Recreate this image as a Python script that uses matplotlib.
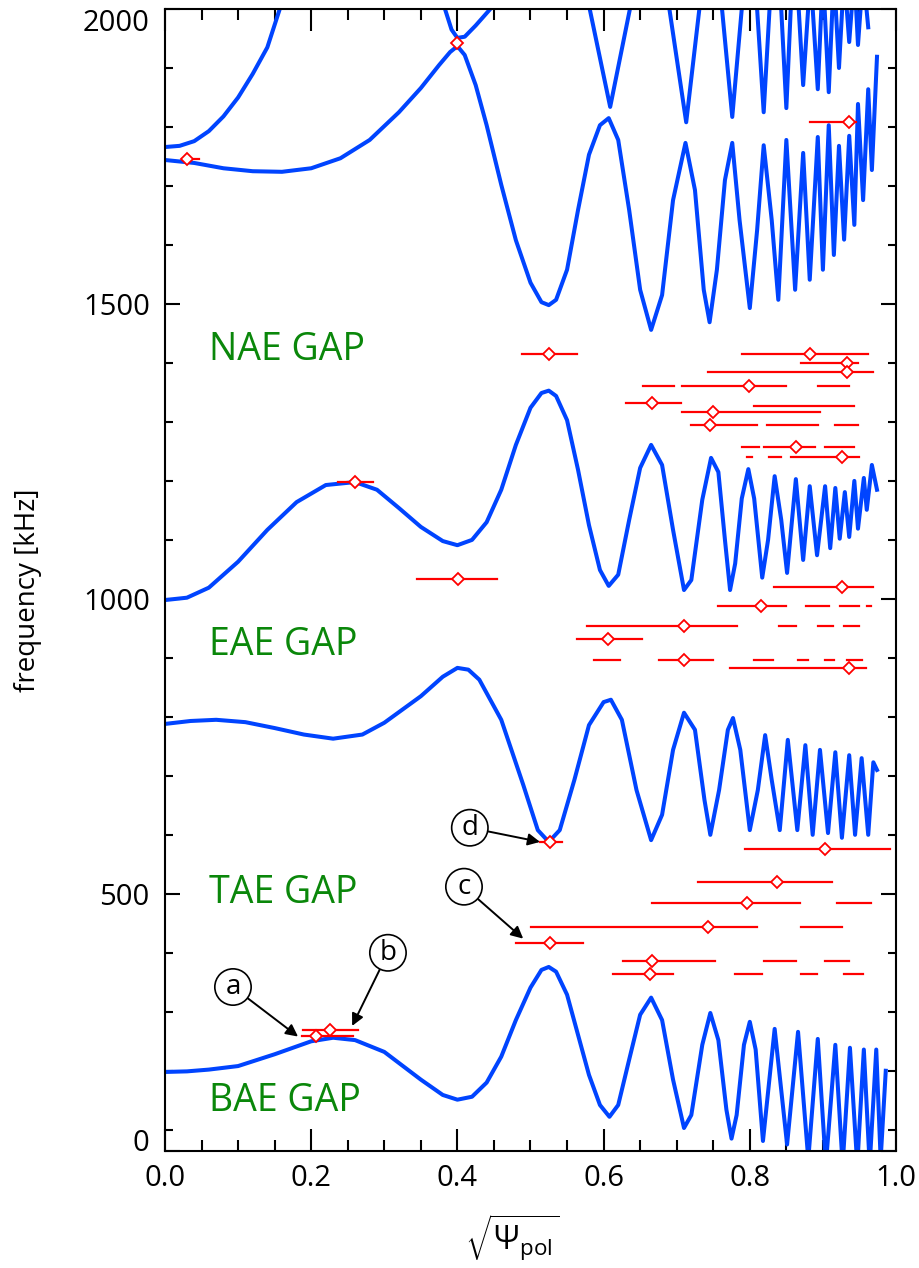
import numpy as np
import matplotlib
matplotlib.use('Agg')
import matplotlib.pyplot as plt
from matplotlib.ticker import MultipleLocator, FixedLocator, FormatStrFormatter

plt.rcParams['font.family'] = ['Open Sans', 'DejaVu Sans']
plt.rcParams['mathtext.fontset'] = 'custom'
plt.rcParams['mathtext.rm'] = 'Open Sans'
plt.rcParams['mathtext.it'] = 'Open Sans:italic'
plt.rcParams['mathtext.bf'] = 'Open Sans:bold'

# ---------------- continuum curves (sqrt(psi_pol), kHz) ----------------
bae_x = [0.000, 0.030, 0.060, 0.100, 0.150, 0.200, 0.230, 0.260, 0.300, 0.350, 0.380, 0.400,
         0.420, 0.440, 0.460, 0.480, 0.500, 0.515, 0.525, 0.535, 0.550, 0.565, 0.580, 0.595,
         0.608, 0.620, 0.635, 0.650, 0.665, 0.680, 0.695, 0.710, 0.720, 0.735, 0.746, 0.757,
         0.768, 0.775, 0.782, 0.792, 0.800, 0.808, 0.818, 0.834, 0.851, 0.866, 0.880, 0.893,
         0.904, 0.917, 0.927, 0.937, 0.947, 0.956, 0.964, 0.973, 0.979, 0.986]
bae_y = [198, 199, 202, 208, 228, 250, 256, 252, 232, 185, 159, 151,
         156, 180, 224, 286, 341, 371, 376, 368, 329, 261, 193, 142,
         122, 142, 219, 295, 324, 286, 185, 103, 125, 244, 298, 252,
         134, 85, 125, 244, 283, 236, 81, 271, 75, 266, 50, 254,
         40, 244, 40, 239, 40, 236, 40, 236, 50, 200]

tae_x = [0.000, 0.035, 0.070, 0.110, 0.150, 0.190, 0.230, 0.270, 0.300, 0.350, 0.380, 0.400,
         0.415, 0.430, 0.460, 0.490, 0.510, 0.525, 0.540, 0.560, 0.580, 0.600, 0.610, 0.625,
         0.645, 0.665, 0.680, 0.695, 0.710, 0.725, 0.738, 0.746, 0.758, 0.770, 0.777, 0.787,
         0.800, 0.811, 0.821, 0.830, 0.841, 0.852, 0.865, 0.876, 0.886, 0.896, 0.907, 0.917,
         0.926, 0.936, 0.944, 0.953, 0.962, 0.969, 0.974]
tae_y = [788, 793, 795, 791, 781, 770, 763, 770, 790, 835, 868, 883,
         880, 863, 795, 685, 608, 588, 608, 693, 786, 825, 829, 795,
         676, 591, 634, 744, 807, 778, 659, 600, 676, 778, 798, 744,
         608, 676, 769, 693, 608, 761, 608, 752, 600, 744, 603, 740,
         595, 735, 600, 730, 600, 723, 710]

eae_x = [0.000, 0.030, 0.060, 0.100, 0.140, 0.180, 0.220, 0.260, 0.290, 0.320, 0.350, 0.380,
         0.400, 0.420, 0.440, 0.460, 0.480, 0.500, 0.515, 0.525, 0.535, 0.550, 0.565, 0.580,
         0.595, 0.607, 0.620, 0.635, 0.650, 0.665, 0.680, 0.695, 0.710, 0.720, 0.735, 0.747,
         0.757, 0.766, 0.773, 0.780, 0.789, 0.798, 0.806, 0.817, 0.825, 0.834, 0.843, 0.851,
         0.863, 0.873, 0.882, 0.892, 0.903, 0.910, 0.917, 0.923, 0.930, 0.936, 0.943, 0.948,
         0.956, 0.960, 0.967, 0.974]
eae_y = [998, 1002, 1019, 1063, 1117, 1164, 1193, 1198, 1185, 1154, 1122, 1098,
         1091, 1100, 1130, 1185, 1261, 1324, 1349, 1353, 1344, 1303, 1219, 1125,
         1049, 1022, 1041, 1134, 1222, 1261, 1227, 1117, 1015, 1032, 1168, 1239,
         1215, 1100, 1015, 1060, 1170, 1220, 1170, 1036, 1100, 1208, 1134, 1044,
         1203, 1066, 1191, 1074, 1191, 1086, 1188, 1102, 1181, 1105, 1200, 1119,
         1205, 1151, 1227, 1185]

nae_lo_x = [0.000, 0.040, 0.080, 0.120, 0.160, 0.200, 0.240, 0.280, 0.320, 0.350, 0.375, 0.390,
            0.400, 0.410, 0.425, 0.440, 0.460, 0.480, 0.500, 0.515, 0.525, 0.535, 0.550, 0.565,
            0.580, 0.595, 0.607, 0.620, 0.635, 0.650, 0.665, 0.680, 0.695, 0.712, 0.725, 0.737,
            0.745, 0.755, 0.766, 0.776, 0.786, 0.800, 0.810, 0.819, 0.830, 0.839, 0.850, 0.862,
            0.873, 0.882, 0.893, 0.900, 0.908, 0.915, 0.922, 0.929, 0.936, 0.943, 0.948, 0.955,
            0.962, 0.967, 0.974]
nae_lo_y = [1744, 1739, 1730, 1725, 1724, 1730, 1747, 1778, 1825, 1866, 1905, 1927,
            1937, 1922, 1871, 1803, 1702, 1608, 1536, 1503, 1498, 1507, 1558, 1659,
            1753, 1803, 1815, 1778, 1659, 1524, 1456, 1515, 1676, 1773, 1693, 1524,
            1469, 1558, 1710, 1773, 1642, 1493, 1625, 1769, 1642, 1507, 1778, 1524,
            1756, 1541, 1783, 1558, 1803, 1583, 1768, 1609, 1785, 1634, 1839, 1676,
            1864, 1727, 1919]

nae_hi_x = [0.000, 0.020, 0.040, 0.060, 0.080, 0.100, 0.120, 0.140, 0.157, 0.270, 0.383, 0.392,
            0.400, 0.410, 0.425, 0.445, 0.510, 0.581, 0.609, 0.636, 0.660, 0.690, 0.713, 0.731,
            0.745, 0.762, 0.776, 0.789, 0.800, 0.810, 0.819, 0.827, 0.835, 0.843, 0.850, 0.856,
            0.865, 0.873, 0.883, 0.893, 0.900, 0.908, 0.915, 0.922, 0.929, 0.936, 0.943, 0.948,
            0.955, 0.962]
nae_hi_y = [1766, 1768, 1776, 1793, 1818, 1850, 1890, 1935, 2000, 2250, 2000, 1965,
            1951, 1953, 1972, 2000, 2200, 2000, 1834, 2000, 2100, 2000, 1808, 2000,
            2080, 2000, 1817, 2000, 2050, 2000, 1825, 2000, 2040, 2000, 1832, 2000,
            2040, 1871, 2060, 1864, 2060, 1859, 2060, 1900, 2060, 1944, 2060, 1939,
            2060, 1969]

# ---------------- measured modes: position and radial extent ----------------
pt_x = [0.030, 0.399, 0.936, 0.525, 0.882, 0.933, 0.933, 0.799, 0.666, 0.750, 0.746, 0.863,
        0.926, 0.260, 0.401, 0.926, 0.815, 0.710, 0.606, 0.710, 0.936, 0.527, 0.903, 0.837,
        0.796, 0.743, 0.527, 0.666, 0.663, 0.226, 0.207]
pt_y = [1746, 1942, 1808, 1415, 1415, 1400, 1385, 1361, 1332, 1317, 1295, 1258,
        1241, 1198, 1034, 1020, 988, 954, 932, 897, 883, 588, 576, 520,
        485, 444, 417, 386, 364, 269, 259]
pt_xlo = [0.023, 0.399, 0.882, 0.488, 0.789, 0.870, 0.743, 0.707, 0.631, 0.707, 0.720, 0.819,
          0.856, 0.237, 0.345, 0.833, 0.757, 0.577, 0.564, 0.676, 0.773, 0.513, 0.793, 0.729,
          0.666, 0.501, 0.480, 0.627, 0.613, 0.189, 0.187]
pt_xhi = [0.047, 0.399, 0.945, 0.564, 0.962, 0.948, 0.969, 0.850, 0.706, 0.896, 0.810, 0.889,
          0.949, 0.285, 0.454, 0.969, 0.850, 0.782, 0.653, 0.750, 0.959, 0.543, 0.992, 0.912,
          0.869, 0.810, 0.572, 0.752, 0.695, 0.264, 0.257]

# extra radial segments without a marker
seg_y = [1361, 1361, 1327, 1295, 1295, 1258, 1258, 1241, 1241,
         988, 988, 988, 954, 954, 954, 897, 897, 897, 897, 897,
         485, 444, 386, 386, 364, 364, 364]
seg_x0 = [0.654, 0.893, 0.806, 0.824, 0.917, 0.789, 0.903, 0.796, 0.826,
          0.877, 0.923, 0.960, 0.840, 0.893, 0.929, 0.587, 0.806, 0.866, 0.903, 0.933,
          0.919, 0.870, 0.819, 0.903, 0.780, 0.870, 0.929]
seg_x1 = [0.696, 0.936, 0.943, 0.893, 0.948, 0.813, 0.943, 0.803, 0.843,
          0.908, 0.949, 0.966, 0.863, 0.914, 0.949, 0.622, 0.832, 0.880, 0.915, 0.953,
          0.966, 0.926, 0.863, 0.936, 0.817, 0.892, 0.955]

gap_labels = ['NAE GAP', 'EAE GAP', 'TAE GAP', 'BAE GAP']
gap_y = [1422, 922, 502, 149]

ann_labels = ['a', 'b', 'c', 'd']
ann_text_xy = [(0.093, 342), (0.305, 400), (0.409, 512), (0.417, 612)]
ann_tip_xy = [(0.182, 258), (0.256, 276), (0.490, 424), (0.513, 588)]

yticks = [500, 1000, 1500, 2000]

# ---------------- figure ----------------
W, H = 920, 1268
fig = plt.figure(figsize=(W / 100, H / 100), dpi=100)
ax = fig.add_axes([165 / W, 1 - 1151 / H, 731 / W, 1142 / H])

blue = '#0044ff'
red = '#ff0000'
green = '#0a870a'

for xs, ys in [(bae_x, bae_y), (tae_x, tae_y), (eae_x, eae_y), (nae_lo_x, nae_lo_y), (nae_hi_x, nae_hi_y)]:
    ax.plot(xs, ys, color=blue, lw=2.9, solid_joinstyle='round', zorder=2)

for y, x0, x1 in zip(seg_y, seg_x0, seg_x1):
    ax.plot([x0, x1], [y, y], color=red, lw=1.6, zorder=3)
for x, y, lo, hi in zip(pt_x, pt_y, pt_xlo, pt_xhi):
    ax.plot([lo, hi], [y, y], color=red, lw=1.6, zorder=3)
ax.plot(pt_x, pt_y, ls='none', marker='D', ms=6.3, mfc='white', mec=red, mew=1.3, zorder=4)

for lab, y in zip(gap_labels, gap_y):
    ax.text(0.060, y, lab, color=green, fontsize=27, ha='left', va='center')

for lab, txy, tip in zip(ann_labels, ann_text_xy, ann_tip_xy):
    ax.annotate(lab, xy=tip, xytext=txy, fontsize=20, ha='center', va='center',
                bbox=dict(boxstyle='circle,pad=0.15', fc='white', ec='black', lw=1.2),
                arrowprops=dict(arrowstyle='-|>', color='black', lw=1.4,
                                mutation_scale=18, shrinkA=0, shrinkB=0),
                zorder=5)

ax.set_xlim(0, 1)
ax.set_ylim(64, 2000)
ax.xaxis.set_major_locator(MultipleLocator(0.2))
ax.xaxis.set_minor_locator(MultipleLocator(0.05))
ax.xaxis.set_major_formatter(FormatStrFormatter('%.1f'))
ax.set_yticks([64] + yticks)
ax.set_yticklabels(['0'] + [str(v) for v in yticks])
ax.yaxis.set_minor_locator(FixedLocator([v for v in range(100, 2000, 100) if v % 500]))

ax.tick_params(axis='x', which='both', direction='in', top=True, bottom=True, width=1.5,
               labelsize=21, pad=9)
ax.tick_params(axis='x', which='major', length=16)
ax.tick_params(axis='x', which='minor', length=8)
ax.tick_params(axis='y', which='both', direction='in', left=True, right=True, width=1.5,
               labelsize=21, pad=11)
ax.tick_params(axis='y', which='major', length=11)
ax.tick_params(axis='y', which='minor', length=5.5)
for s in ax.spines.values():
    s.set_linewidth(1.5)

ticks = ax.yaxis.get_major_ticks()
ticks[0].label1.set_va('baseline')
ticks[-1].label1.set_va('top')

fig.text(28 / W, 1 - 590 / H, 'frequency [kHz]', rotation=90, fontsize=20,
         ha='center', va='center')
fig.text(512 / W, 1 - 1238 / H, r'$\sqrt{\Psi_{\rm pol}}$', fontsize=23,
         ha='center', va='center')

fig.savefig('out.png', dpi=100)
